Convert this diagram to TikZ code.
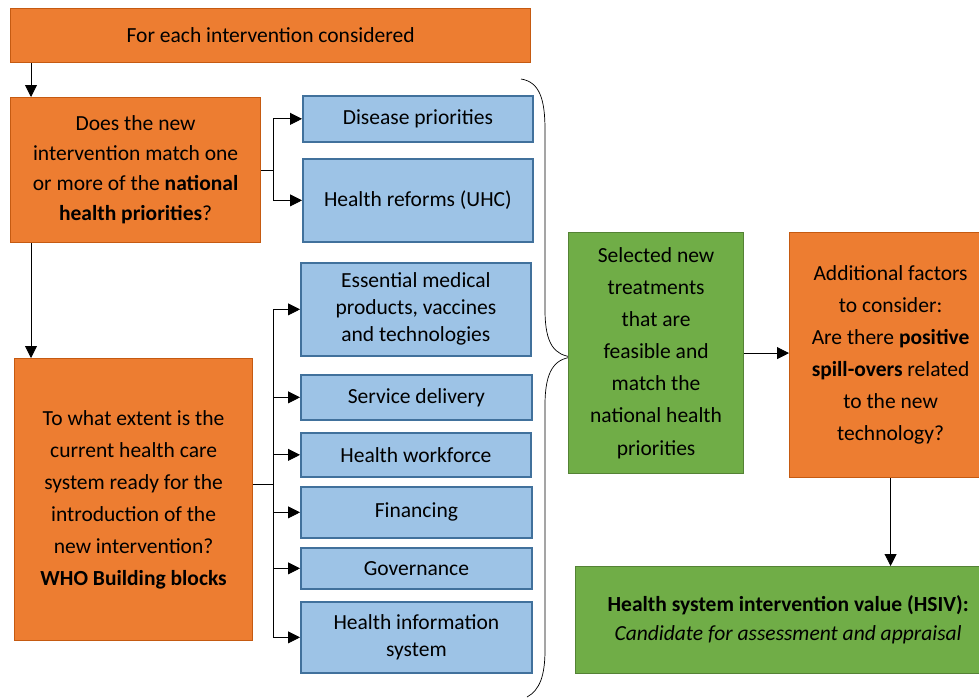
\documentclass[tikz,border=0pt]{standalone}
\usepackage{fontspec}
\setmainfont{Carlito}
\usepackage{tikz}
\usetikzlibrary{arrows.meta}
\definecolor{boxorange}{HTML}{ED7D31}
\definecolor{lineorange}{HTML}{C55A11}
\definecolor{boxblue}{HTML}{9DC3E6}
\definecolor{lineblue}{HTML}{41719C}
\definecolor{boxgreen}{HTML}{70AD47}
\definecolor{linegreen}{HTML}{548235}

\begin{document}
\begin{tikzpicture}[x=0.025cm,y=-0.025cm,
  box/.style={anchor=north west,inner sep=0pt,align=center,font=\fontsize{15.3}{22.8}\selectfont},
  orangebox/.style={box,fill=boxorange,draw=lineorange,line width=0.8pt},
  bluebox/.style={box,fill=boxblue,draw=lineblue,line width=1.2pt},
  greenbox/.style={box,fill=boxgreen,draw=linegreen,line width=0.8pt},
  arr/.style={-{Triangle[length=0.3cm,width=0.3cm]},line width=0.6pt}]
\useasboundingbox (0,0) rectangle (979,698);
%%%%%%%%%%%%%%%%%%%%%%%%%%%%%%%%
%% left column
%%%%%%%%%%%%%%%%%%%%%%%%%%%%%%%%
\node[orangebox,minimum width=13cm,minimum height=1.35cm] (top) at (10,8)
  {For each intervention considered};
\node[orangebox,minimum width=6.25cm,minimum height=3.625cm,
  font=\fontsize{15.3}{21.3}\selectfont] (q1) at (10,97)
  {Does the new\\intervention match one\\or more of the \textbf{national}\\\textbf{health priorities}?};
\node[orangebox,minimum width=5.95cm,minimum height=7.05cm] (q2) at (14,358)
  {To what extent is the\\current health care\\system ready for the\\introduction of the\\new intervention?\\\textbf{WHO Building blocks}};
%
\draw[arr] ([xshift=0.525cm]top.south west) -- ([xshift=0.525cm]top.south west |- q1.north);
\draw[arr] ([xshift=0.525cm]q1.south west) -- ([xshift=0.525cm]q1.south west |- q2.north);
%
%%%%%%%%%%%%%%%%%%%%%%%%%%%%%%%%
%% national priorities
%%%%%%%%%%%%%%%%%%%%%%%%%%%%%%%%
\node[bluebox,minimum width=5.75cm,minimum height=1.15cm] (disease) at (302,95) {Disease priorities};
\node[bluebox,minimum width=5.75cm,minimum height=2.075cm] (reforms) at (302,158) {Health reforms (UHC)};

\draw[arr] (q1.east) -- ++(12,0) |- (disease.west);
\draw[arr] (q1.east) -- ++(12,0) |- (reforms.west);
%
%%%%%%%%%%%%%%%%%%%%%%%%%%%%%%%%
%% WHO building blocks
%%%%%%%%%%%%%%%%%%%%%%%%%%%%%%%%
\node[bluebox,minimum width=5.75cm,minimum height=2.325cm,
  font=\fontsize{15.3}{19.2}\selectfont] (essential) at (300,262)
  {Essential medical\\products, vaccines\\and technologies};
\node[bluebox,minimum width=5.775cm,minimum height=1.125cm] (service) at (300,374) {Service delivery};
\node[bluebox,minimum width=5.75cm,minimum height=1.1cm] (workforce) at (300,432) {Health workforce};
\node[bluebox,minimum width=5.775cm,minimum height=1.275cm] (financing) at (300,486) {Financing};
\node[bluebox,minimum width=5.775cm,minimum height=1.025cm] (governance) at (300,547) {Governance};
\node[bluebox,minimum width=5.775cm,minimum height=1.775cm,
  font=\fontsize{15.3}{19.2}\selectfont] (info) at (300,601)
  {Health information\\system};

\coordinate (q2out) at ([yshift=0.375cm]q2.east);
\draw[arr] (q2out) -- ++(20,0) |- (essential.west);
\draw[arr] (q2out) -- ++(20,0) |- (service.west);
\draw[arr] (q2out) -- ++(20,0) |- (workforce.west);
\draw[arr] (q2out) -- ++(20,0) |- (financing.west);
\draw[arr] (q2out) -- ++(20,0) |- (governance.west);
\draw[arr] (q2out) -- ++(20,0) |- (info.west);
%
%%%%%%%%%%%%%%%%%%%%%%%%%%%%%%%%
%% brace
%%%%%%%%%%%%%%%%%%%%%%%%%%%%%%%%
\coordinate (bracetip) at (572,357);
\draw[line width=0.5pt] (521,79) .. controls (540,82) and (545,100) .. (545,130) -- (545,310)
  .. controls (545,345) and (555,355) .. (bracetip)
  .. controls (555,359) and (545,370) .. (545,405) -- (545,650)
  .. controls (545,675) and (540,690) .. (527,697);
%
%%%%%%%%%%%%%%%%%%%%%%%%%%%%%%%%
%% right column
%%%%%%%%%%%%%%%%%%%%%%%%%%%%%%%%
\node[greenbox,minimum width=4.375cm,minimum height=6.025cm] (selected) at (568,232)
  {Selected new\\treatments\\that are\\feasible and\\match the\\national health\\priorities};
\node[orangebox,minimum width=5.05cm,minimum height=6.125cm] (additional) at (789,232)
  {Additional factors\\to consider:\\Are there \textbf{positive}\\\textbf{spill-overs} related\\to the new\\technology?};
\node[greenbox,minimum width=10.625cm,minimum height=2.675cm,
  font=\fontsize{15.3}{20.6}\selectfont] (hsiv) at (575,566)
  {\textbf{Health system intervention value (HSIV):}\\\textit{Candidate for assessment and appraisal}};

\draw[arr] (selected.east) -- (selected.east -| additional.west);
\draw[arr] (additional.south) -- (additional.south |- hsiv.north);
\end{tikzpicture}
\end{document}
